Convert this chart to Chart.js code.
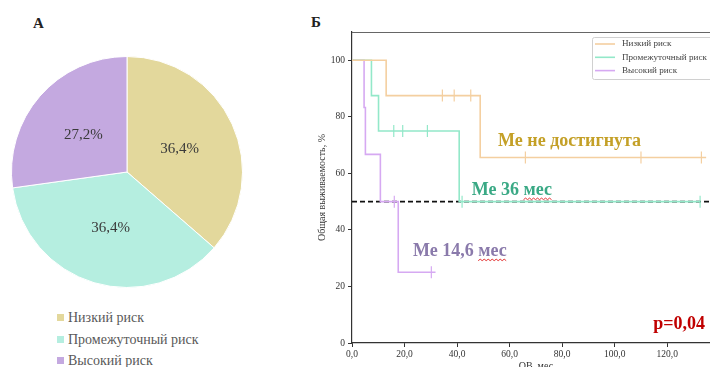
<!DOCTYPE html>
<html lang="ru">
<head>
<meta charset="utf-8">
<title>Группы риска и общая выживаемость</title>
<script src="https://cdn.jsdelivr.net/npm/chart.js@4.4.1/dist/chart.umd.min.js"></script>
<style>
  html, body { margin: 0; padding: 0; background: #fff; }
  body { width: 710px; height: 367px; overflow: hidden; position: relative; font-family: "Liberation Serif", "DejaVu Serif", serif; }
  .panel-letter { position: absolute; font-weight: bold; font-size: 15px; color: #222; line-height: 1; }
  #pieWrap { position: absolute; left: 11px; top: 56px; width: 232px; height: 232px; }
  #kmWrap { position: absolute; left: 300px; top: 0; width: 427px; height: 380px; }
  .pie-legend { position: absolute; left: 57px; top: 307px; font-size: 14px; color: #595959; }
  .pie-legend div { height: 21.5px; line-height: 21.5px; white-space: nowrap; }
  .pie-legend span.sw { display: inline-block; width: 7px; height: 7px; margin-right: 4px; vertical-align: 1px; }
</style>
</head>
<body>
<div class="panel-letter" style="left:33px; top:16px;">А</div>
<div class="panel-letter" style="left:311px; top:15px;">Б</div>

<div id="pieWrap"><canvas id="pie" width="232" height="232"></canvas></div>
<div class="pie-legend" id="pieLegend"></div>

<div id="kmWrap"><canvas id="km" width="427" height="380"></canvas></div>

<script>
// Risk groups (share of patients, %)
const riskGroups = ["Низкий риск", "Промежуточный риск", "Высокий риск"];
const riskShares = [36.4, 36.4, 27.2];
const pieColors = ["#e3d89c", "#b5eee0", "#c4a9e0"];

// Kaplan–Meier curves: event times (months) and survival (%)
const lowTimes  = [0, 13.0, 48.8, 134.8];
const lowSurv   = [100, 87.5, 65.6, 65.6];
const lowCensor = [34.4, 38.9, 45.2, 66.0, 110.0, 133.0];

const midTimes  = [0, 7.4, 10.1, 40.8, 132.5];
const midSurv   = [100, 87.5, 75, 50, 50];
const midCensor = [15.9, 19.3, 28.7, 41.9, 132.5];

const highTimes  = [0, 4.6, 5.1, 10.8, 17.6, 31.8];
const highSurv   = [100, 83.3, 66.7, 50, 25, 25];
const highCensor = [16.1, 30.2];

const medianLevel = 50;
const xTicks = [0, 20, 40, 60, 80, 100, 120];
const yTicks = [0, 20, 40, 60, 80, 100];

const kmColors = ["#f4cfa0", "#93e8c9", "#d6a9f2"];
const medianNotes = [
  { text: "Ме не достигнута", x: 55.6, y: 71.5, color: "#c4a027", wavy: false },
  { text: "Ме 36 мес",        x: 45.6, y: 53.9, color: "#3aa985", wavy: true },
  { text: "Ме 14,6 мес",      x: 23.2, y: 32.3, color: "#8a7aab", wavy: true }
];
const pValueText = "p=0,04";

const serif = "'Liberation Serif', 'DejaVu Serif', serif";

// ---------- pie ----------
const legendBox = document.getElementById("pieLegend");
riskGroups.forEach((name, i) => {
  const row = document.createElement("div");
  const sw = document.createElement("span");
  sw.className = "sw";
  sw.style.background = pieColors[i];
  row.appendChild(sw);
  row.appendChild(document.createTextNode(name));
  legendBox.appendChild(row);
});

const sliceLabels = {
  id: "sliceLabels",
  afterDatasetsDraw(chart) {
    const ctx = chart.ctx;
    const meta = chart.getDatasetMeta(0);
    ctx.save();
    ctx.font = "15px " + serif;
    ctx.fillStyle = "#3a3a3a";
    ctx.textAlign = "center";
    ctx.textBaseline = "middle";
    meta.data.forEach((arc, i) => {
      const p = arc.tooltipPosition();
      ctx.fillText(riskShares[i].toFixed(1).replace(".", ",") + "%", p.x, p.y + 1);
    });
    ctx.restore();
  }
};

new Chart(document.getElementById("pie"), {
  type: "pie",
  data: {
    labels: riskGroups,
    datasets: [{ data: riskShares, backgroundColor: pieColors, borderColor: "#ffffff", borderWidth: 1 }]
  },
  options: {
    responsive: false,
    animation: false,
    layout: { padding: 0 },
    plugins: { legend: { display: false }, tooltip: { enabled: false } }
  },
  plugins: [sliceLabels]
});

// ---------- Kaplan–Meier ----------
function survivalAt(times, surv, t) {
  let s = surv[0];
  for (let i = 0; i < times.length; i++) if (times[i] <= t) s = surv[i];
  return s;
}
const toPoints = (xs, ys) => xs.map((x, i) => ({ x, y: ys[i] }));
const censorPoints = (c, times, surv) => c.map(t => ({ x: t, y: survivalAt(times, surv, t) }));

const curve = (label, xs, ys, color) => ({
  label, data: toPoints(xs, ys), borderColor: color, backgroundColor: color,
  borderWidth: 1.6, stepped: "before", showLine: true, pointRadius: 0, fill: false
});
const ticksSet = (xs, times, surv, color) => ({
  label: "", data: censorPoints(xs, times, surv), borderColor: color, backgroundColor: color,
  showLine: false, pointStyle: "line", rotation: 90, pointRadius: 6, borderWidth: 1.2
});

const kmDecor = {
  id: "kmDecor",
  beforeDatasetsDraw(chart) {
    const { ctx, chartArea } = chart;
    ctx.save();
    ctx.strokeStyle = "#666";
    ctx.lineWidth = 1;
    ctx.beginPath();
    ctx.moveTo(chartArea.left, chartArea.top + 0.5);
    ctx.lineTo(chartArea.right, chartArea.top + 0.5);
    ctx.stroke();
    ctx.restore();
  },
  afterDatasetsDraw(chart) {
    const { ctx, scales } = chart;
    const xs = scales.x, ys = scales.y;
    ctx.save();
    ctx.font = "bold 18px " + serif;
    ctx.textBaseline = "middle";
    ctx.textAlign = "left";
    medianNotes.forEach(n => {
      const px = xs.getPixelForValue(n.x), py = ys.getPixelForValue(n.y);
      ctx.fillStyle = n.color;
      ctx.fillText(n.text, px, py);
      if (n.wavy) {
        // spell-check style wavy underline under the last word
        const words = n.text.split(" ");
        const last = words[words.length - 1];
        const prefixW = ctx.measureText(n.text.slice(0, n.text.length - last.length)).width;
        const wordW = ctx.measureText(last).width;
        const x0 = px + prefixW, x1 = x0 + wordW, y0 = py + 9;
        ctx.strokeStyle = "#e02020";
        ctx.lineWidth = 0.9;
        ctx.beginPath();
        ctx.moveTo(x0, y0);
        let up = true;
        for (let x = x0 + 2; x <= x1; x += 2) { ctx.lineTo(x, up ? y0 - 1.5 : y0); up = !up; }
        ctx.stroke();
      }
    });
    ctx.fillStyle = "#c00000";
    ctx.textAlign = "right";
    ctx.fillText(pValueText, xs.getPixelForValue(134.4), ys.getPixelForValue(6.5));

    // legend box in the upper right corner
    const lx = 292, ly = 37, lw = 140, lh = 42;
    ctx.strokeStyle = "#d0d0d0";
    ctx.lineWidth = 1;
    ctx.beginPath();
    ctx.roundRect(lx + 0.5, ly + 0.5, lw, lh, 2);
    ctx.stroke();
    // size the legend font so the longest entry spans ~85px
    ctx.font = "10px " + serif;
    const longest = Math.max(...riskGroups.map(t => ctx.measureText(t).width));
    const fs = Math.min(13, Math.max(8, 10 * 85 / longest));
    ctx.font = fs.toFixed(2) + "px " + serif;
    ctx.textAlign = "left";
    ctx.textBaseline = "middle";
    for (let i = 0; i < 3; i++) {
      const ds = chart.data.datasets[i];
      const yy = ly + 7 + i * 13.3;
      ctx.strokeStyle = ds.borderColor;
      ctx.lineWidth = 1.6;
      ctx.beginPath();
      ctx.moveTo(lx + 3, yy);
      ctx.lineTo(lx + 23, yy);
      ctx.stroke();
      ctx.fillStyle = "#444";
      ctx.fillText(ds.label, lx + 30, yy);
    }
    ctx.restore();
  }
};

new Chart(document.getElementById("km"), {
  type: "scatter",
  data: {
    datasets: [
      curve(riskGroups[0], lowTimes, lowSurv, kmColors[0]),
      curve(riskGroups[1], midTimes, midSurv, kmColors[1]),
      curve(riskGroups[2], highTimes, highSurv, kmColors[2]),
      ticksSet(lowCensor, lowTimes, lowSurv, kmColors[0]),
      ticksSet(midCensor, midTimes, midSurv, kmColors[1]),
      ticksSet(highCensor, highTimes, highSurv, kmColors[2]),
      {
        label: "", data: [{ x: 0, y: medianLevel }, { x: 140, y: medianLevel }],
        borderColor: "#111", borderWidth: 1.6, borderDash: [5, 3], showLine: true, pointRadius: 0
      }
    ]
  },
  options: {
    responsive: false,
    animation: false,
    layout: { padding: { top: 32, left: 0, right: 0, bottom: 0 } },
    plugins: { legend: { display: false }, tooltip: { enabled: false } },
    scales: {
      x: {
        type: "linear", min: 0, max: 140,
        afterFit: s => { s.height = 37; },
        afterBuildTicks: s => { s.ticks = xTicks.map(v => ({ value: v })); },
        ticks: {
          font: { family: serif, size: 9.5 }, color: "#333", padding: 2, maxRotation: 0,
          callback: v => v.toFixed(1).replace(".", ",")
        },
        grid: { drawOnChartArea: false, drawTicks: true, tickLength: 4, color: "#333" },
        border: { display: true, color: "#333", width: 1.2 },
        title: { display: true, text: "ОВ, мес", font: { family: serif, size: 10 }, color: "#333", padding: { top: 0, bottom: 8 } }
      },
      y: {
        type: "linear", min: 0, max: 110,
        afterFit: s => { s.width = 52; },
        afterBuildTicks: s => { s.ticks = yTicks.map(v => ({ value: v })); },
        ticks: { font: { family: serif, size: 9.5 }, color: "#333", padding: 3 },
        grid: { drawOnChartArea: false, drawTicks: true, tickLength: 4, color: "#333" },
        border: { display: true, color: "#333", width: 1.2 },
        title: { display: true, text: "Общая выживаемость, %", font: { family: serif, size: 10 }, color: "#333", padding: { top: 16, bottom: 0 } }
      }
    }
  },
  plugins: [kmDecor]
});
</script>
</body>
</html>
